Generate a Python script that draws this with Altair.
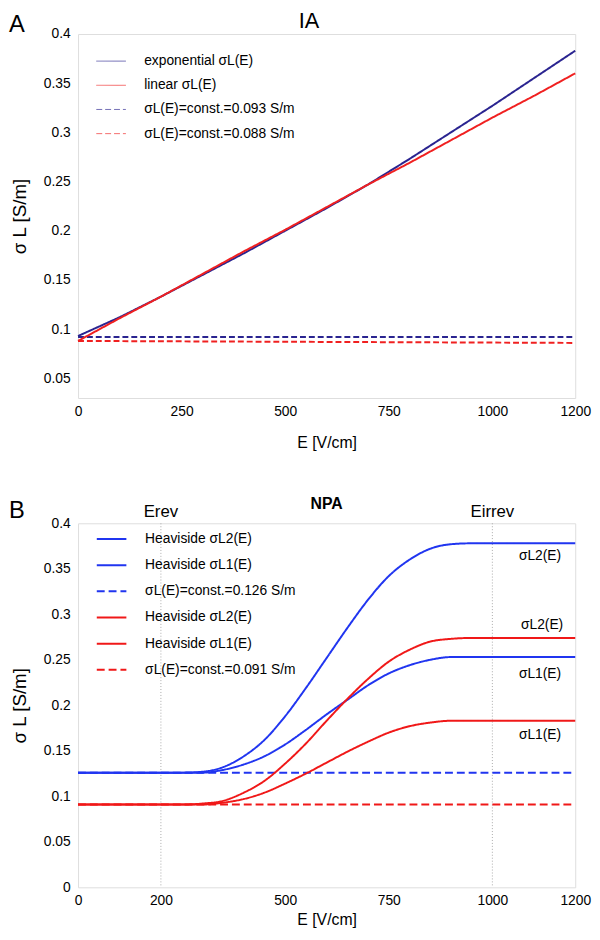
import altair as alt
import pandas as pd

FONT = "Liberation Sans"

# ---------------- Panel A (IA) ----------------
E_A = [0, 100, 200, 300, 400, 500, 600, 700, 800, 900, 1000, 1100, 1200]
exp_sigma = [0.093, 0.112, 0.133, 0.155, 0.177, 0.200, 0.223, 0.247, 0.273, 0.300, 0.327, 0.355, 0.383]
lin_sigma = [0.088, 0.111, 0.133, 0.156, 0.179, 0.201, 0.224, 0.247, 0.269, 0.292, 0.315, 0.337, 0.360]
const_E = [0, 1200]
const_093 = [0.092, 0.092]
const_088 = [0.088, 0.086]

labels_A = ["exponential σL(E)", "linear σL(E)",
            "σL(E)=const.=0.093 S/m", "σL(E)=const.=0.088 S/m"]
colors_A = ["#2a2490", "#f02020", "#2a2490", "#f02020"]
dashes_A = [[1, 0], [1, 0], [6, 3], [6, 3]]
xticks_A = [0, 250, 500, 750, 1000, 1200]
yticks_A = [0.05, 0.1, 0.15, 0.2, 0.25, 0.3, 0.35, 0.4]

# ---------------- Panel B (NPA) ----------------
E_B = [0, 200, 250, 300, 350, 400, 450, 500, 550, 600, 650, 700, 750, 800, 850, 900, 950, 1200]
blue_L2 = [0.126, 0.126, 0.126, 0.127, 0.132, 0.144, 0.162, 0.188, 0.219, 0.252, 0.285, 0.316, 0.342, 0.360, 0.372, 0.377, 0.378, 0.378]
blue_L1 = [0.126, 0.126, 0.126, 0.126, 0.129, 0.135, 0.144, 0.157, 0.173, 0.190, 0.206, 0.222, 0.235, 0.244, 0.250, 0.253, 0.253, 0.253]
red_L2 = [0.091, 0.091, 0.091, 0.092, 0.095, 0.104, 0.117, 0.136, 0.158, 0.183, 0.207, 0.229, 0.248, 0.261, 0.270, 0.273, 0.274, 0.274]
red_L1 = [0.091, 0.091, 0.091, 0.091, 0.093, 0.097, 0.104, 0.114, 0.125, 0.137, 0.149, 0.160, 0.170, 0.177, 0.181, 0.183, 0.183, 0.183]
const_126 = [0.126, 0.126]
const_091 = [0.091, 0.091]

labels_B = ["Heaviside σL2(E)", "Heaviside σL1(E)", "σL(E)=const.=0.126 S/m",
            "Heaviside σL2(E) ", "Heaviside σL1(E) ", "σL(E)=const.=0.091 S/m"]
colors_B = ["#2035f0", "#2035f0", "#2035f0", "#f01818", "#f01818", "#f01818"]
dashes_B = [[1, 0], [1, 0], [8, 4], [1, 0], [1, 0], [8, 4]]
xticks_B = [0, 200, 500, 750, 1000, 1200]
yticks_B = [0, 0.05, 0.1, 0.15, 0.2, 0.25, 0.3, 0.35, 0.4]

thresholds_E = [200, 1000]
thresholds_name = ["Erev", "Eirrev"]

end_label_text = ["σL2(E)", "σL2(E)", "σL1(E)", "σL1(E)"]
end_label_E = [1115, 1120, 1115, 1115]
end_label_sigma = [0.364, 0.288, 0.234, 0.167]

# ---------------- tables ----------------
def table(series_list):
    rows = []
    for name, xs, ys in series_list:
        for x, y in zip(xs, ys):
            rows.append({"series": name, "E": x, "sigma": y})
    return pd.DataFrame(rows)

dfA = table([
    (labels_A[2], const_E, const_093),
    (labels_A[3], const_E, const_088),
    (labels_A[0], E_A, exp_sigma),
    (labels_A[1], E_A, lin_sigma),
])
dfB = table([
    (labels_B[2], const_E, const_126),
    (labels_B[5], const_E, const_091),
    (labels_B[0], E_B, blue_L2),
    (labels_B[1], E_B, blue_L1),
    (labels_B[3], E_B, red_L2),
    (labels_B[4], E_B, red_L1),
])
dfT = pd.DataFrame({"E": thresholds_E, "name": thresholds_name})
dfL = pd.DataFrame({"E": end_label_E, "sigma": end_label_sigma, "t": end_label_text})

W, H = 504, 369


def x_axis(values, label_pad, title_pad):
    return alt.Axis(values=values, title="E [V/cm]", grid=False, ticks=False, domain=False,
                    labelPadding=label_pad, titlePadding=title_pad, labelFontSize=14,
                    titleFontSize=16, labelFlush=False, labelOverlap=False, format="d",
                    labelColor="black", titleColor="black", titleFontWeight="normal",
                    labelFont=FONT, titleFont=FONT)


def y_axis(values):
    return alt.Axis(values=values, title="σ L [S/m]", grid=False, ticks=False, domain=False,
                    labelPadding=8, titlePadding=14, labelFontSize=14, titleFontSize=19,
                    format=".2~f", labelOverlap=False, labelColor="black", titleColor="black",
                    titleFontWeight="normal", labelFont=FONT, titleFont=FONT)


def legend(ly, sw, op, rp):
    return alt.Legend(title=None, orient="none", legendX=18, legendY=ly, symbolType="stroke",
                      symbolSize=900, symbolStrokeWidth=sw, symbolOpacity=op, labelFontSize=14,
                      labelFont=FONT, labelColor="black", labelOffset=18, labelLimit=400,
                      padding=0, rowPadding=rp)


def text_layer(txt, x, y, size, weight="normal", align="left"):
    return alt.Chart(pd.DataFrame({"t": [txt]})).mark_text(
        font=FONT, fontSize=size, fontWeight=weight, align=align, baseline="alphabetic",
        color="black").encode(text="t:N", x=alt.value(x), y=alt.value(y))


# ---------------- chart A ----------------
sxA = alt.Scale(domain=[0, 1200], nice=False, zero=False)
syA = alt.Scale(domain=[0.03, 0.4], nice=False, zero=False)
linesA = alt.Chart(dfA).mark_line(strokeWidth=2).encode(
    x=alt.X("E:Q", scale=sxA, axis=x_axis(xticks_A, 7, 16)),
    y=alt.Y("sigma:Q", scale=syA, axis=y_axis(yticks_A)),
    color=alt.Color("series:N", scale=alt.Scale(domain=labels_A, range=colors_A),
                    legend=legend(12, 1, 0.65, 1.5)),
    strokeDash=alt.StrokeDash("series:N", scale=alt.Scale(domain=labels_A, range=dashes_A),
                              legend=legend(12, 1, 0.65, 1.5)),
)
chartA = alt.layer(
    linesA,
    text_layer("IA", 234, -6, 22, align="center"),
    text_layer("A", -70, -2, 24),
).properties(width=W, height=H)

# ---------------- chart B ----------------
sxB = alt.Scale(domain=[0, 1200], nice=False, zero=False)
syB = alt.Scale(domain=[0, 0.4], nice=False, zero=False)
rulesB = alt.Chart(dfT).mark_rule(color="#aaaaaa", strokeDash=[1, 2], strokeWidth=1).encode(
    x=alt.X("E:Q", scale=sxB))
thrText = alt.Chart(dfT).mark_text(font=FONT, fontSize=17, baseline="alphabetic",
                                   color="black").encode(
    x=alt.X("E:Q", scale=sxB), y=alt.value(-6), text="name:N")
linesB = alt.Chart(dfB).mark_line(strokeWidth=2, interpolate="monotone").encode(
    x=alt.X("E:Q", scale=sxB, axis=x_axis(xticks_B, 6, 5)),
    y=alt.Y("sigma:Q", scale=syB, axis=y_axis(yticks_B)),
    color=alt.Color("series:N", scale=alt.Scale(domain=labels_B, range=colors_B),
                    legend=legend(0, 2, 1, 3.5)),
    strokeDash=alt.StrokeDash("series:N", scale=alt.Scale(domain=labels_B, range=dashes_B),
                              legend=legend(0, 2, 1, 3.5)),
)
endText = alt.Chart(dfL).mark_text(font=FONT, fontSize=14, color="black").encode(
    x=alt.X("E:Q", scale=sxB), y=alt.Y("sigma:Q", scale=syB), text="t:N")
chartB = alt.layer(
    rulesB, linesB, endText, thrText,
    text_layer("NPA", 252, -14, 16, weight="bold", align="center"),
    text_layer("B", -70, -5, 24),
).properties(width=W, height=H)

chart = alt.vconcat(chartA, chartB, spacing=45).resolve_scale(
    x="independent", y="independent", color="independent", strokeDash="independent"
).properties(padding={"top": -5, "left": 0, "right": 0, "bottom": 0}).configure_view(
    stroke="#888888", strokeWidth=1
).configure(font=FONT)

chart.save("out.html", embed_options={"renderer": "svg", "actions": False})
